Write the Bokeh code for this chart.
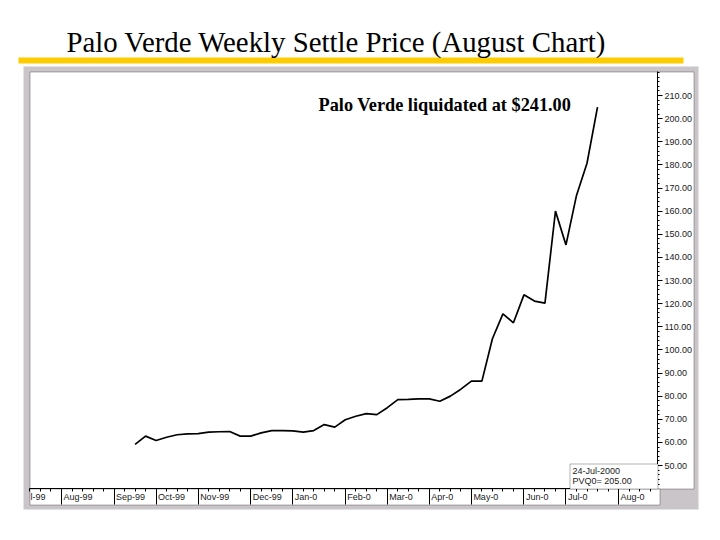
import pandas as pd
from bokeh.plotting import figure
from bokeh.models import (BoxAnnotation, Label, FixedTicker, PrintfTickFormatter,
                          Range1d, ColumnDataSource, LinearAxis)
from bokeh.embed import file_html
from bokeh.resources import INLINE

# ---------------- data ----------------
base_date = "1999-07-26"          # week index 0
week_dates = pd.date_range("1999-09-20", "2000-07-24", freq="7D")
prices = [59.1, 62.7, 60.8, 62.2, 63.3, 63.7, 63.8, 64.4, 64.6, 64.7,
          62.7, 62.7, 64.1, 65.1, 65.1, 65.0, 64.4, 65.1, 67.7, 66.6,
          69.8, 71.3, 72.4, 72.0, 75.0, 78.5, 78.6, 78.8, 78.8, 77.8,
          80.0, 83.0, 86.5, 86.5, 104.8, 115.6, 111.7, 123.8, 121.1, 120.2,
          160.0, 145.4, 166.8, 180.7, 205.0]
month_starts = ["1999-07-05", "1999-08-02", "1999-09-06", "1999-10-04", "1999-11-01",
                "1999-12-06", "2000-01-03", "2000-02-07", "2000-03-06", "2000-04-03",
                "2000-05-01", "2000-06-05", "2000-07-03", "2000-08-07"]
month_labels = ["Jul-99", "Aug-99", "Sep-99", "Oct-99", "Nov-99", "Dec-99", "Jan-0",
                "Feb-0", "Mar-0", "Apr-0", "May-0", "Jun-0", "Jul-0", "Aug-0"]
y_ticks = list(range(50, 211, 10))
title_text = "Palo Verde Weekly Settle Price  (August Chart)"
note_text = "Palo Verde liquidated at $241.00"
contract = "PVQ0"

base = pd.Timestamp(base_date)
def week_index(d):
    return (pd.Timestamp(d) - base).days / 7.0

xs = [week_index(d) for d in week_dates]
month_x = [week_index(d) for d in month_starts]

# ---------------- geometry (page pixels) ----------------
W, H = 720, 540
FL, FR, FT, FB = 29, 657, 71, 488        # chart area
PX_WEEK = 10.51
X0_PX = 61                               # pixel of week index 1
PX_UNIT = 2.3125
Y210_PX = 95

def px_x(px):
    return 1 + (px - X0_PX) / PX_WEEK

def x_px(x):
    return X0_PX + (x - 1) * PX_WEEK

def px_y(py):
    return 210 - (py - Y210_PX) / PX_UNIT

p = figure(width=W, height=H, output_backend="svg", toolbar_location=None,
           x_range=Range1d(px_x(0), px_x(W)), y_range=Range1d(px_y(H), px_y(0)),
           x_axis_location=None, y_axis_location=None,
           min_border=0, title=None)
p.background_fill_color = "white"
p.border_fill_color = "white"
p.outline_line_color = None
p.grid.visible = False

GREY = "#c9c5c9"
def box(l, r, t, b, fill, line=None, level="underlay"):
    p.add_layout(BoxAnnotation(left=px_x(l), right=px_x(r), top=px_y(t), bottom=px_y(b),
                               fill_color=fill, fill_alpha=1.0,
                               line_color=line, line_width=1, level=level))

# page decorations
box(18, 683, 57, 63, "#ffcc00")
box(23, 698, 66, 509, GREY)
box(29.5, 693.5, 71.5, FB + 0.5, "white", "black")
box(29.5, 659.5, FB + 0.5, 504.5, "white", "black")

# price line
src = ColumnDataSource(dict(x=xs, y=prices))
p.line("x", "y", source=src, line_color="black", line_width=1.7)

AXFONT = "Liberation Sans"
AXSIZE = 9
TXT = "#1a1a1a"

def inside(x):
    return FL < x_px(x) < FR

# x axis: month bars + weekly ticks (no labels)
weeks = [float(i) for i in range(-3, 58)]
xa = LinearAxis(ticker=FixedTicker(ticks=[m for m in month_x if inside(m)],
                                   minor_ticks=[w for w in weeks if inside(w)]),
                fixed_location=px_y(FB), bounds=(px_x(FL), px_x(FR)),
                axis_line_color="black", major_tick_line_color="black",
                minor_tick_line_color="black", major_tick_out=16, major_tick_in=0,
                minor_tick_out=3, minor_tick_in=0, major_label_text_color=None)
p.add_layout(xa, "below")

# x axis labels, written to the right of each month bar
ARIAL = {'A': 667, 'u': 556, 'g': 556, '-': 333, '9': 556, '0': 556, 'S': 667, 'e': 556,
         'p': 556, 'O': 778, 'c': 500, 't': 278, 'N': 722, 'o': 556, 'v': 500, 'D': 722,
         'J': 500, 'a': 556, 'n': 556, 'F': 611, 'b': 556, 'M': 833, 'r': 333, 'y': 500,
         'l': 222}
def text_w(s):
    return sum(ARIAL.get(c, 556) for c in s) * AXSIZE / 1000.0

centers, overrides = [], {}
for mx, lab in zip(month_x, month_labels):
    shown = lab
    start_px = x_px(mx) + 2
    if start_px < FL:                     # first month is cut by the left edge
        shown = lab[2:]
        start_px = FL + 1
    c = px_x(start_px + text_w(shown) / 2)
    centers.append(c)
    overrides[c] = shown
xl = LinearAxis(ticker=FixedTicker(ticks=centers, minor_ticks=[]),
                fixed_location=px_y(FB), axis_line_color=None,
                major_tick_line_color=None, minor_tick_line_color=None,
                major_tick_out=0, major_tick_in=0, major_label_standoff=3,
                major_label_overrides=overrides, major_label_text_font=AXFONT,
                major_label_text_font_size=f"{AXSIZE}px", major_label_text_color=TXT)
p.add_layout(xl, "below")

# y axis on the right
ya = LinearAxis(ticker=FixedTicker(ticks=y_ticks, minor_ticks=[float(v) for v in range(42, 221, 2)]),
                formatter=PrintfTickFormatter(format="%.2f"),
                fixed_location=px_x(FR), bounds=(px_y(FB), px_y(FT)),
                axis_line_color="black", major_tick_line_color="black",
                minor_tick_line_color="black", major_tick_out=5, major_tick_in=0,
                minor_tick_out=2, minor_tick_in=0, major_label_standoff=2,
                major_label_text_font=AXFONT, major_label_text_font_size=f"{AXSIZE}px",
                major_label_text_color=TXT)
p.add_layout(ya, "right")

# title & note
p.add_layout(Label(x=px_x(66), y=px_y(41), text=title_text, text_font="Liberation Serif",
                   text_font_size="28.8px", text_color="black", text_align="left",
                   text_baseline="alphabetic"))
p.add_layout(Label(x=px_x(318), y=px_y(104), text=note_text, text_font="Liberation Serif",
                   text_font_size="18.3px", text_font_style="bold", text_color="black",
                   text_align="left", text_baseline="alphabetic"))

# info box
box(569.5, 657.5, 463.5, FB + 0.5, "white", "black", level="annotation")
last_date = week_dates[-1].strftime("%d-%b-%Y")
p.add_layout(Label(x=px_x(572), y=px_y(470), text=last_date, text_font=AXFONT,
                   text_font_size=f"{AXSIZE}px", text_color=TXT, text_align="left",
                   text_baseline="middle"))
p.add_layout(Label(x=px_x(572), y=px_y(480), text=f"{contract}= {prices[-1]:.2f}",
                   text_font=AXFONT, text_font_size=f"{AXSIZE}px", text_color=TXT,
                   text_align="left", text_baseline="middle"))

open("out.html", "w").write(file_html(p, INLINE))
